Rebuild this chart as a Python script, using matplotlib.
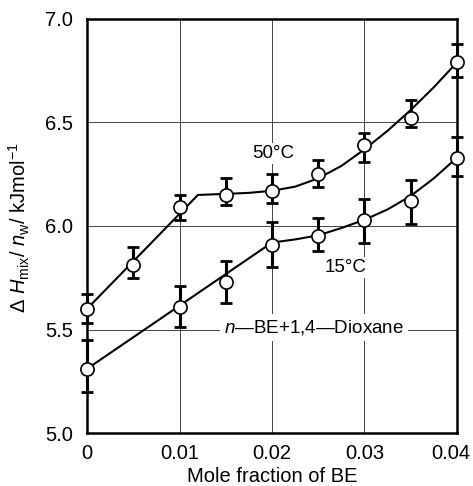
import matplotlib
matplotlib.use("Agg")
import matplotlib.pyplot as plt
import matplotlib.transforms as mtransforms

plt.rcParams['font.family'] = ['Liberation Sans', 'DejaVu Sans']
plt.rcParams['mathtext.fontset'] = 'custom'
plt.rcParams['mathtext.rm'] = 'Liberation Sans'
plt.rcParams['mathtext.it'] = 'Liberation Sans:italic'

# measured points
x50 = [0.0, 0.005, 0.01, 0.015, 0.02, 0.025, 0.03, 0.035, 0.04]
y50 = [5.60, 5.81, 6.09, 6.15, 6.17, 6.25, 6.39, 6.52, 6.79]
lo50 = [5.53, 5.75, 6.03, 6.10, 6.11, 6.19, 6.31, 6.48, 6.72]
hi50 = [5.67, 5.90, 6.15, 6.23, 6.25, 6.32, 6.45, 6.61, 6.88]

x15 = [0.0, 0.01, 0.015, 0.02, 0.025, 0.03, 0.035, 0.04]
y15 = [5.31, 5.61, 5.73, 5.91, 5.95, 6.03, 6.12, 6.33]
lo15 = [5.20, 5.51, 5.63, 5.80, 5.88, 5.92, 6.01, 6.24]
hi15 = [5.45, 5.71, 5.83, 6.02, 6.04, 6.13, 6.22, 6.43]

# fitted curves
cx50 = [0.0, 0.012, 0.015, 0.0175, 0.02, 0.0225, 0.025, 0.0275, 0.03, 0.0325, 0.035, 0.0375, 0.04]
cy50 = [5.60, 6.15, 6.155, 6.16, 6.17, 6.19, 6.23, 6.29, 6.37, 6.46, 6.56, 6.67, 6.79]
cx15 = [0.0, 0.02, 0.0225, 0.025, 0.0275, 0.03, 0.0325, 0.035, 0.0375, 0.04]
cy15 = [5.31, 5.92, 5.935, 5.955, 5.99, 6.03, 6.08, 6.145, 6.23, 6.33]

xticks = [0, 0.01, 0.02, 0.03, 0.04]
xticklabels = ["0", "0.01", "0.02", "0.03", "0.04"]
yticks = [5.0, 5.5, 6.0, 6.5, 7.0]
yticklabels = ["5.0", "5.5", "6.0", "6.5", "7.0"]

fig = plt.figure(figsize=(4.73, 4.86), dpi=100)
ax = fig.add_axes([0.184, 0.109, 0.782, 0.852])
ax.set_xlim(0, 0.04)
ax.set_ylim(5.0, 7.0)

for v in [0.01, 0.02, 0.03]:
    ax.axvline(v, color='#444444', lw=0.7, zorder=1)
for v in [5.5, 6.0, 6.5]:
    ax.axhline(v, color='#444444', lw=0.7, zorder=1)

for xs, ys, lo, hi, cx, cy in [(x50, y50, lo50, hi50, cx50, cy50),
                               (x15, y15, lo15, hi15, cx15, cy15)]:
    ax.plot(cx, cy, color='black', lw=1.5, zorder=3, clip_on=False)
    yerr = [[y - l for y, l in zip(ys, lo)], [h - y for y, h in zip(ys, hi)]]
    ax.errorbar(xs, ys, yerr=yerr, fmt='none', ecolor='black', elinewidth=2.2,
                capsize=4, capthick=2.0, zorder=4, clip_on=False)
    ax.plot(xs, ys, 'o', ms=9.5, mfc='white', mec='black', mew=1.2, zorder=5, clip_on=False)

bb = dict(facecolor='white', edgecolor='none', pad=1.5)
ax.text(0.0201, 6.35, "50°C", fontsize=13.5, ha='center', va='center', bbox=bb, zorder=2)
ax.text(0.028, 5.80, "15°C", fontsize=13.5, ha='center', va='center', bbox=bb, zorder=2)
ax.text(0.0245, 5.51, r"$n$—BE+1,4—Dioxane", fontsize=13.5, ha='center', va='center',
        bbox=dict(facecolor='white', edgecolor='none', pad=3), zorder=2)

ax.set_xticks(xticks)
ax.set_xticklabels(xticklabels)
ax.set_yticks(yticks)
ax.set_yticklabels(yticklabels)
ax.tick_params(direction='in', length=0, labelsize=14.5)
ax.tick_params(axis='y', pad=10)
ax.tick_params(axis='x', pad=8)
for s in ax.spines.values():
    s.set_linewidth(1.8)

last = ax.get_xticklabels()[-1]
last.set_transform(last.get_transform() + mtransforms.ScaledTranslation(-6 / 100, 0, fig.dpi_scale_trans))

ax.set_xlabel("Mole fraction of BE", fontsize=14.5, labelpad=3)
ax.set_ylabel(r"Δ $H_{\rm mix}$/ $n_{\rm w}$/ kJmol$^{-1}$", fontsize=14.5)
ax.yaxis.set_label_coords(-0.15, 0.495)

fig.savefig("out.png", dpi=100)
